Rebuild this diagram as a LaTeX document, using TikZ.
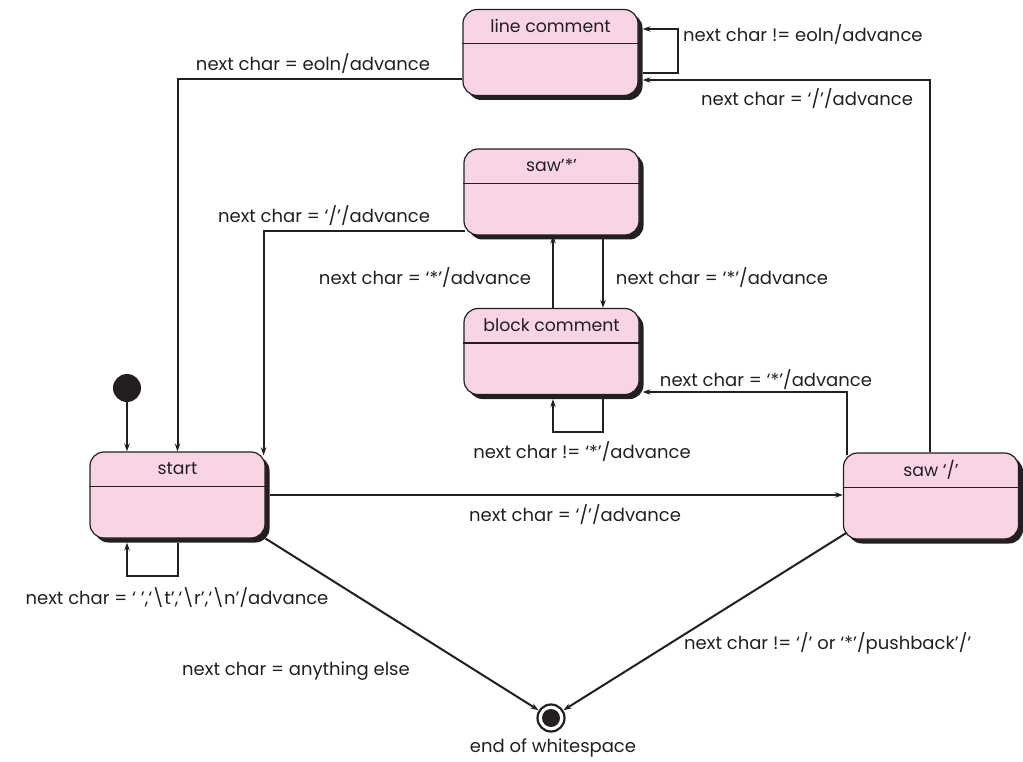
\documentclass[tikz,border=0pt]{standalone}
\usepackage{fontspec}
\setmainfont{Poppins}
\usetikzlibrary{arrows.meta,shadows,calc}
\definecolor{pinkfill}{RGB}{249,212,229}
\definecolor{ink}{RGB}{35,31,32}
\begin{document}
\begin{tikzpicture}[x=1pt,y=-1pt,
  state/.style={draw=ink, line width=1.2pt, fill=pinkfill, rounded corners=14pt,
    minimum width=175pt, minimum height=86pt, inner sep=0pt,
    drop shadow={shadow xshift=4.5pt, shadow yshift=-4.5pt, fill=ink, opacity=1}},
  ttl/.style={font=\fontsize{17.3}{20}\selectfont, text=ink, inner sep=0pt},
  lbl/.style={font=\fontsize{18}{22}\selectfont, text=ink, inner sep=0pt},
  arr/.style={draw=ink, line width=2pt, -{Stealth[length=8pt,width=5.5pt]}},
  divl/.style={draw=ink, line width=1.2pt}]
\useasboundingbox (0,0) rectangle (1023,762);

% states
\node[state] (line) at (550.5,52.5) {};
\node[state] (sawstar) at (551.5,192) {};
\node[state] (block) at (551.5,351.5) {};
\node[state] (start) at (177.5,495) {};
\node[state] (sawslash) at (931,496) {};
\foreach \n in {line,sawstar,block,start,sawslash}
  \draw[divl] ([yshift=-35pt]\n.north west) -- ([yshift=-35pt]\n.north east);

\node[ttl] (tline) at ([yshift=-17pt]line.north) {line comment};
\node[ttl] (tsawstar) at ([yshift=-17pt]sawstar.north) {saw’*’};
\node[ttl] (tblock) at ([yshift=-17pt]block.north) {block comment};
\node[ttl] (tstart) at ([yshift=-17pt]start.north) {start};
\node[ttl] (tsawslash) at ([yshift=-17pt]sawslash.north) {saw ‘/’};

% initial and final
\node[circle, fill=ink, minimum size=28pt, inner sep=0pt] (init) at (127,388) {};
\node[circle, draw=ink, line width=2.2pt, fill=white, minimum size=27pt, inner sep=0pt] (final) at (551,718) {};
\fill[ink] (final.center) circle (9pt);
\node[lbl] (tfinal) at (553,748) {end of whitespace};

% connectors
\draw[arr] (init) -- (init |- start.north);
\draw[arr] ([yshift=-26.5pt]line.west) -| (start.north);
\draw[arr] ([xshift=4pt,yshift=-20.5pt]line.east) -- ++(35,0) |- ([xshift=4pt,yshift=23.5pt]line.east);
\draw[arr] ([xshift=-1pt]sawslash.north) |- ([xshift=4pt,yshift=-27.5pt]line.east);
\draw[arr] ([xshift=2pt,yshift=-39pt]sawstar.west) -| ([xshift=-2pt,yshift=-4pt]start.north east);
\draw[arr] ([xshift=1.5pt]block.north) -- ([xshift=1.5pt]sawstar.south);
\draw[arr] ([xshift=51.5pt]sawstar.south) -- ([xshift=51.5pt]block.north);
\draw[arr] ([xshift=51.5pt]block.south) -- ++(0,37) -| ([xshift=1.5pt,yshift=-4pt]block.south);
\draw[arr] ([xshift=4pt,yshift=-3pt]sawslash.north west) |- ([xshift=3pt,yshift=-40.5pt]block.east);
\draw[arr] ([xshift=4pt]start.east) -- (start.east -| sawslash.west);
\draw[arr] ([xshift=0.5pt,yshift=-4pt]start.south) -- ++(0,33) -| ([xshift=-50.5pt,yshift=-4pt]start.south);
\draw[arr] (start.south east) -- (final);
\draw[arr] ([xshift=4pt,yshift=7pt]sawslash.south west) -- (final);

% labels
\node[lbl] (l1) at (313,64) {next char = eoln/advance};
\node[lbl, anchor=west] (l2) at (683,35) {next char != eoln/advance};
\node[lbl] (l3) at (807,99) {next char = ‘/’/advance};
\node[lbl] (l4) at (324,216) {next char = ‘/’/advance};
\node[lbl] (l5) at (425,278) {next char = ‘*’/advance};
\node[lbl] (l6) at (722,278) {next char = ‘*’/advance};
\node[lbl] (l7) at (766,380) {next char = ‘*’/advance};
\node[lbl] (l8) at (582,452) {next char != ‘*’/advance};
\node[lbl] (l9) at (575,515) {next char = ‘/’/advance};
\node[lbl] (l10) at (177,598) {next char = ‘ ’,‘\textbackslash t’,‘\textbackslash r’,‘\textbackslash n’/advance};
\node[lbl, anchor=east] (l11) at (410,671) {next char = anything else};
\node[lbl, anchor=west] (l12) at (684,643) {next char != ‘/’ or ‘*’/pushback’/’};
\end{tikzpicture}
\end{document}
